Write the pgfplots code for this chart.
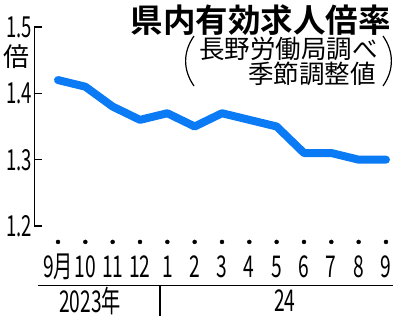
\documentclass[border=0pt]{standalone}
\usepackage{pgfplots}
\pgfplotsset{compat=1.18}
\usepackage{fontspec}
\setmainfont{Noto Sans CJK JP}
\newfontfamily\cond[FakeStretch=0.64]{Noto Sans CJK JP}
\newfontfamily\titlef{Noto Sans CJK JP Bold}
\definecolor{lineblue}{RGB}{10,122,245}
\begin{document}
\begin{tikzpicture}[x=1pt,y=1pt]
\useasboundingbox (0,0) rectangle (400,326);
\begin{axis}[
  at={(34.5pt,100pt)}, anchor=south west,
  scale only axis, width=357.5pt, height=199pt,
  xmin=-0.86, xmax=12.22, ymin=1.2, ymax=1.5,
  axis x line=none,
  axis y line*=left,
  y axis line style={line width=1.3pt, -},
  ytick={1.2,1.3,1.4,1.5},
  yticklabels={1.2,1.3,1.4,1.5},
  ytick style={line width=1.3pt, black},
  major tick length=8pt,
  tick align=inside,
  yticklabel style={font=\cond\fontsize{29}{29}\selectfont, anchor=east, xshift=1pt},
  xtick={0,...,12},
  clip=false,
]
\addplot[lineblue, line width=8pt, line join=round, line cap=round] coordinates {
(0,1.42) (1,1.41) (2,1.38) (3,1.36) (4,1.37) (5,1.35) (6,1.37) (7,1.36) (8,1.35) (9,1.31) (10,1.31) (11,1.30) (12,1.30)};
\addplot[only marks, mark=*, mark size=2pt, black] coordinates {
(0,1.176) (1,1.176) (2,1.176) (3,1.176) (4,1.176) (5,1.176) (6,1.176) (7,1.176) (8,1.176) (9,1.176) (10,1.176) (11,1.176) (12,1.176)};
\foreach \i/\l in {0/9月,1/10,2/11,3/12,4/1,5/2,6/3,7/4,8/5,9/6,10/7,11/8,12/9} {
  \edef\tmp{\noexpand\node[font=\noexpand\cond\noexpand\fontsize{30}{30}\noexpand\selectfont, inner sep=0pt] at (axis cs:\i,1.1385) {\l};}
  \tmp
}
\draw[line width=1.3pt] (axis cs:-0.75,1.11) -- (axis cs:12.25,1.11);
\draw[line width=1.3pt] (axis cs:3.73,1.11) -- (axis cs:3.73,1.065);
\node[font=\cond\fontsize{30}{30}\selectfont, inner sep=0pt] at (axis cs:1.17,1.087) {2023年};
\node[font=\cond\fontsize{30}{30}\selectfont, inner sep=0pt] at (axis cs:8.3,1.087) {24};
\end{axis}
\node[font=\titlef\fontsize{32.5}{32.5}\selectfont, anchor=east, inner sep=0pt] at (391,306) {県内有効求人倍率};
\node[font=\fontsize{25.5}{25.5}\selectfont, anchor=east, inner sep=0pt] at (378,277) {長野労働局調べ};
\node[font=\fontsize{25.5}{25.5}\selectfont, anchor=east, inner sep=0pt] at (376,252) {季節調整値};
\draw[line width=1.2pt] (194,290) to[bend right=35] (194,240);
\draw[line width=1.2pt] (383,290) to[bend left=35] (383,240);
\node[font=\fontsize{26}{26}\selectfont, inner sep=0pt] at (16,269) {倍};
\end{tikzpicture}
\end{document}
